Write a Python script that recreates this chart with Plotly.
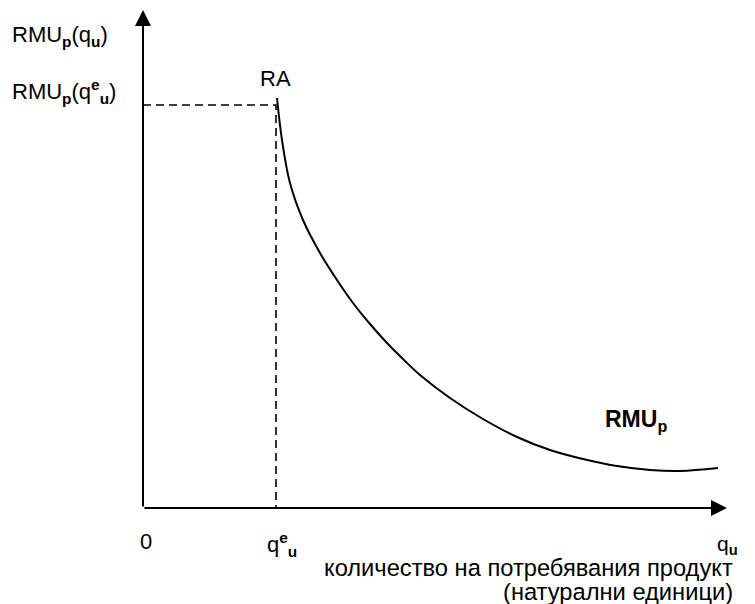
import plotly.graph_objects as go

# Data coordinates: origin at the axes crossing
q_curve = [134, 139, 147, 160, 177, 194, 210, 227, 244, 260, 277, 307, 340, 374, 407, 440, 474, 507, 537, 575]
rmu_curve = [410, 368, 325, 288, 255, 228, 205, 184, 165, 149, 133, 110, 89, 71, 58, 49, 42, 38, 37, 40]
q_e = 133
rmu_qe = 403
x_axis_end = 584
y_axis_end = 498

FONT = "Liberation Sans, Arial, sans-serif"
FS = 22

fig = go.Figure()

fig.add_trace(go.Scatter(x=q_curve, y=rmu_curve, mode="lines",
                         line=dict(color="black", width=2, shape="spline", smoothing=1),
                         hoverinfo="skip"))
# dashed guide lines
fig.add_trace(go.Scatter(x=[0, q_e, q_e], y=[rmu_qe, rmu_qe, 0], mode="lines",
                         line=dict(color="black", width=1.6, dash="8px,5px"),
                         hoverinfo="skip"))

annotations = [
    # axes with arrows
    dict(x=x_axis_end, y=0, ax=0, ay=0, xref="x", yref="y", axref="x", ayref="y",
         showarrow=True, arrowhead=2, arrowsize=1.6, arrowwidth=2, arrowcolor="black", text=""),
    dict(x=0, y=y_axis_end, ax=0, ay=0, xref="x", yref="y", axref="x", ayref="y",
         showarrow=True, arrowhead=2, arrowsize=1.6, arrowwidth=2, arrowcolor="black", text=""),
    dict(x=-133, y=472, text="RMU<sub><b>p</b></sub>(q<sub><b>u</b></sub>)", xanchor="left"),
    dict(x=-133, y=417, text="RMU<sub><b>p</b></sub>(q<sup><b>e</b></sup><sub><b>u</b></sub>)", xanchor="left"),
    dict(x=132, y=430, text="RA"),
    dict(x=3, y=-33, text="0"),
    dict(x=139, y=-36, text="q<sup><b>e</b></sup><sub><b>u</b></sub>"),
    dict(x=584, y=-37, text="q<sub><b>u</b></sub>", font=dict(family=FONT, size=21, color="black")),
    dict(x=493, y=88, text="<b>RMU<sub>p</sub></b>", font=dict(family=FONT, size=23, color="black")),
    dict(x=592, y=-60, text="количество на потребявания продукт", xanchor="right",
         font=dict(family=FONT, size=23.7, color="black")),
    dict(x=592, y=-84, text="(натурални единици)", xanchor="right",
         font=dict(family=FONT, size=23.7, color="black")),
]
for a in annotations:
    a.setdefault("showarrow", False)
    a.setdefault("xref", "x")
    a.setdefault("yref", "y")
    a.setdefault("font", dict(family=FONT, size=FS, color="black"))
fig.update_layout(annotations=annotations)

fig.update_layout(
    width=755, height=604,
    margin=dict(l=0, r=0, t=0, b=0),
    paper_bgcolor="white", plot_bgcolor="white",
    showlegend=False,
    xaxis=dict(range=[-143, 612], visible=False, fixedrange=True),
    yaxis=dict(range=[-96, 508], visible=False, fixedrange=True),
)

fig.write_html("out.html", config={"displayModeBar": False},
               post_script="document.body.style.margin='0';")
